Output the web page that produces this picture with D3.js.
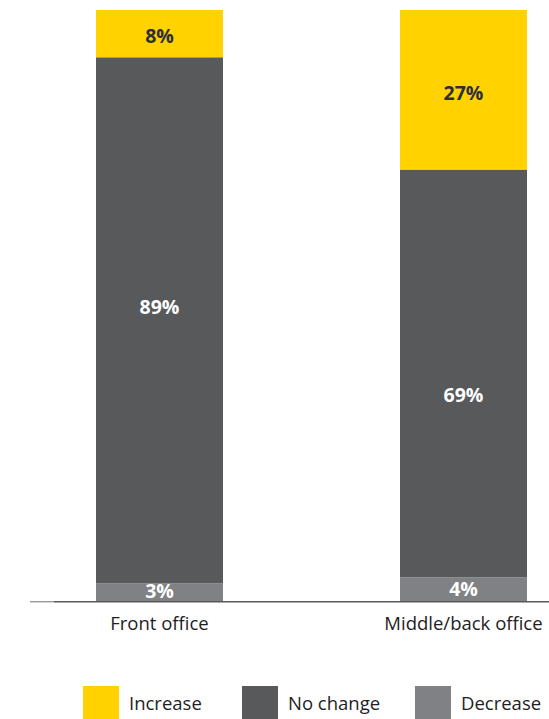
<!DOCTYPE html>
<html><head><meta charset="utf-8">
<script src="https://cdn.jsdelivr.net/npm/d3@7"></script>
<style>body{margin:0;background:#fff}svg{display:block}text{font-family:"Open Sans","Noto Sans",sans-serif}</style>
</head><body>
<svg id="c" width="549" height="719"></svg>
<script>
const categories = ["Front office", "Middle/back office"];
const seriesNames = ["Decrease", "No change", "Increase"];
const decrease = [3, 4];
const noChange = [89, 69];
const increase = [8, 27];
const legendOrder = ["Increase", "No change", "Decrease"];

const colors = {"Increase": "#FFD200", "No change": "#58595B", "Decrease": "#808184"};
const labelColors = {"Increase": "#2E2E38", "No change": "#FFFFFF", "Decrease": "#FFFFFF"};
// manual label nudges (px) as in the original layout
const labelNudge = {"Decrease": [-1, 0], "No change": [-13, 22], "Increase": [2, 3]};

const rows = categories.map((c, i) => ({cat: c, "Decrease": decrease[i], "No change": noChange[i], "Increase": increase[i]}));
const stacked = d3.stack().keys(seriesNames)(rows);

const svg = d3.select("#c");
const y = d3.scaleLinear().domain([0, 100]).range([601, 10]);
const xs = d3.scalePoint().domain(categories).range([159.5, 463.5]);
const bw = 127;

const g = svg.append("g");
stacked.forEach(layer => {
  const key = layer.key;
  g.selectAll(null).data(layer).enter().append("rect")
    .attr("x", d => xs(d.data.cat) - bw / 2)
    .attr("width", bw)
    .attr("y", d => y(d[1]))
    .attr("height", d => y(d[0]) - y(d[1]))
    .attr("fill", colors[key]);
  g.selectAll(null).data(layer).enter().append("text")
    .attr("x", d => xs(d.data.cat))
    .attr("y", (d, i) => (y(d[0]) + y(d[1])) / 2 + 7 + labelNudge[key][i])
    .attr("text-anchor", "middle")
    .attr("font-size", 19.5)
    .attr("font-weight", "bold")
    .attr("fill", labelColors[key])
    .text(d => (d[1] - d[0]) + "%");
});

// axis
svg.append("line").attr("x1", 30).attr("x2", 54).attr("y1", 601.7).attr("y2", 601.7)
  .attr("stroke", "#9a9a9c").attr("stroke-width", 1.4);
svg.append("line").attr("x1", 54).attr("x2", 549).attr("y1", 601.7).attr("y2", 601.7)
  .attr("stroke", "#58595B").attr("stroke-width", 1.4);

svg.selectAll(null).data(categories).enter().append("text")
  .attr("x", d => xs(d))
  .attr("y", 630)
  .attr("text-anchor", "middle")
  .attr("font-size", 18.5)
  .attr("fill", "#1e1e24")
  .text(d => d);

// legend
const legX = [83, 242, 415];
const lg = svg.selectAll(null).data(legendOrder).enter().append("g")
  .attr("transform", (d, i) => `translate(${legX[i]},686)`);
lg.append("rect").attr("width", 36).attr("height", 33).attr("fill", d => colors[d]);
lg.append("text").attr("x", 46).attr("y", 23.5).attr("font-size", 18.5).attr("fill", "#1e1e24").text(d => d);
</script>
</body></html>
